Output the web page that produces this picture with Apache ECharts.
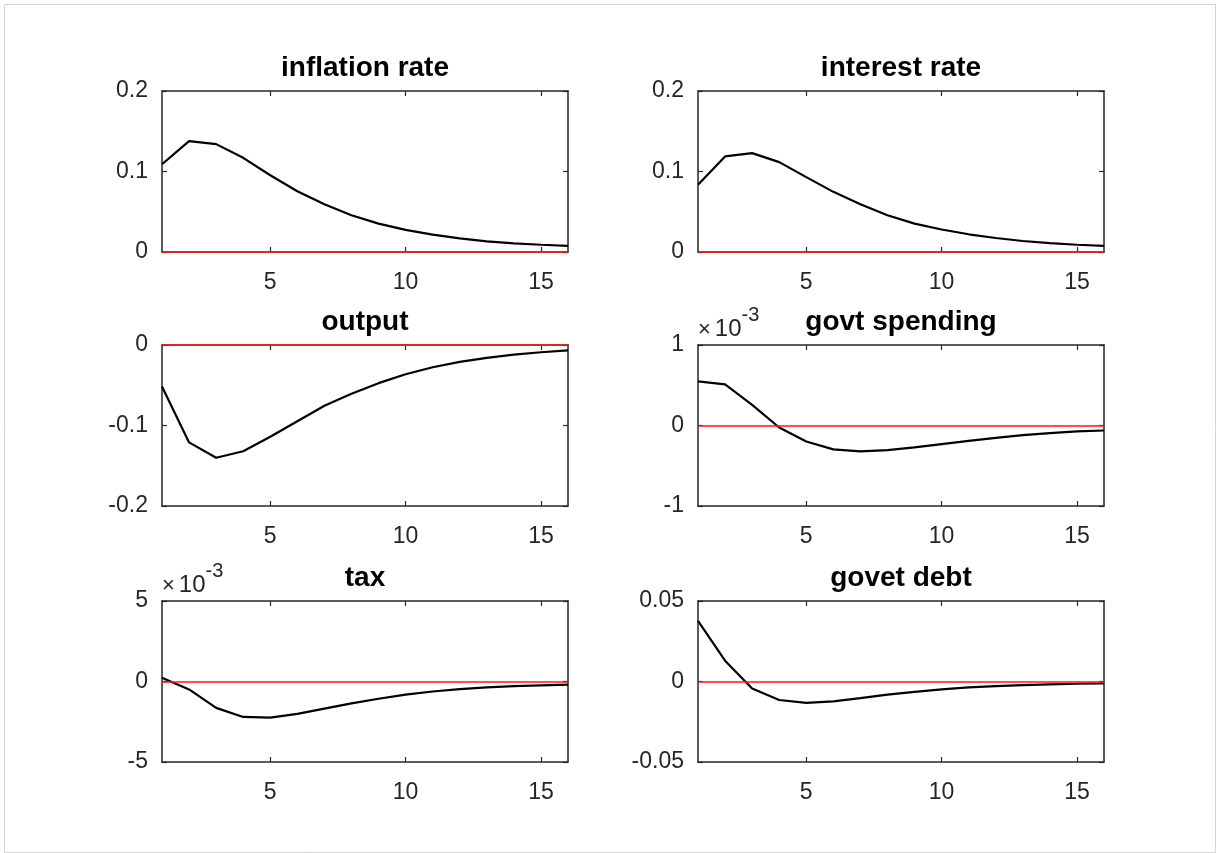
<!DOCTYPE html>
<html>
<head>
<meta charset="utf-8">
<title>Impulse responses</title>
<script src="https://cdn.jsdelivr.net/npm/echarts@6/dist/echarts.min.js"></script>
<style>
  html, body { margin: 0; padding: 0; background: #ffffff; }
  #chart { width: 1217px; height: 853px; }
</style>
</head>
<body>
<div id="chart"></div>
<script>
// Horizon (quarters after the shock)
const periods = [1, 2, 3, 4, 5, 6, 7, 8, 9, 10, 11, 12, 13, 14, 15, 16];
const xTicks = [5, 10, 15];

// Responses of each variable
const inflationRate = [0.109, 0.1378, 0.134, 0.117, 0.0954, 0.0755, 0.0593, 0.0456, 0.0353, 0.0274, 0.0216, 0.017, 0.0133, 0.0108, 0.009, 0.0075];
const interestRate = [0.0834, 0.1187, 0.1228, 0.1116, 0.093, 0.0747, 0.0593, 0.0456, 0.0353, 0.028, 0.022, 0.0174, 0.0137, 0.011, 0.009, 0.0075];
const output = [-0.0515, -0.121, -0.140, -0.132, -0.114, -0.0948, -0.0755, -0.0606, -0.0474, -0.0363, -0.0276, -0.021, -0.016, -0.012, -0.009, -0.0066];
const govtSpending = [0.000548, 0.000511, 0.000256, -0.000025, -0.000198, -0.000297, -0.000322, -0.000305, -0.000272, -0.000231, -0.00019, -0.000153, -0.00012, -0.000095, -0.000074, -0.000062];
const tax = [0.00023, -0.00049, -0.00164, -0.0022, -0.00224, -0.00201, -0.00168, -0.00136, -0.00107, -0.00082, -0.00062, -0.00047, -0.00037, -0.00029, -0.00024, -0.0002];
const govtDebt = [0.0376, 0.0129, -0.0043, -0.0115, -0.0133, -0.0123, -0.0103, -0.0082, -0.0064, -0.0049, -0.0037, -0.0029, -0.0023, -0.0018, -0.0014, -0.0012];

// Y tick values per panel
const inflationTicks = [0, 0.1, 0.2];
const interestTicks = [0, 0.1, 0.2];
const outputTicks = [-0.2, -0.1, 0];
const spendingTicks = [-0.001, 0, 0.001];
const taxTicks = [-0.005, 0, 0.005];
const debtTicks = [-0.05, 0, 0.05];

const titles = ['inflation rate', 'interest rate', 'output', 'govt spending', 'tax', 'govet debt'];
const seriesData = [inflationRate, interestRate, output, govtSpending, tax, govtDebt];
const yTickSets = [inflationTicks, interestTicks, outputTicks, spendingTicks, taxTicks, debtTicks];
const exponents = [0, 0, 0, -3, -3, 0];

// Panel geometry (2 columns x 3 rows)
const colLeft = [162, 698];
const panelWidth = 406;
const rowTop = [91, 345, 601];
const panelHeight = 161;

const FONT = '"Liberation Sans", Arial, Helvetica, sans-serif';
const AXIS_COLOR = '#262626';

const grid = [], xAxis = [], yAxis = [], series = [], title = [], graphic = [];

// Light frame round the figure
graphic.push({
  type: 'rect', left: 2, top: 2, silent: true,
  shape: { width: 1211, height: 848 },
  style: { fill: 'none', stroke: '#d4d4d4', lineWidth: 1 }
});

const axisLine = () => ({ show: true, onZero: false, lineStyle: { color: AXIS_COLOR, width: 1.5 } });
const axisTick = values => ({ show: true, inside: true, length: 5, customValues: values, lineStyle: { color: AXIS_COLOR, width: 1.2 } });

titles.forEach((name, i) => {
  const col = i % 2, row = Math.floor(i / 2);
  const left = colLeft[col], top = rowTop[row];
  const ticks = yTickSets[i];
  const exp = exponents[i];
  const scale = Math.pow(10, -exp);

  grid.push({ left: left, top: top, width: panelWidth, height: panelHeight, containLabel: false });

  // bottom axis with labels, top axis as box edge with ticks
  xAxis.push({
    type: 'value', gridIndex: i, position: 'bottom', min: 1, max: 16,
    axisLine: axisLine(), axisTick: axisTick(xTicks),
    axisLabel: { customValues: xTicks, margin: 19, color: AXIS_COLOR, fontSize: 23, fontFamily: FONT },
    splitLine: { show: false }
  });
  xAxis.push({
    type: 'value', gridIndex: i, position: 'top', min: 1, max: 16,
    axisLine: axisLine(), axisTick: axisTick(xTicks),
    axisLabel: { show: false },
    splitLine: { show: false }
  });

  const fmt = v => String(Math.round(v * scale * 1000) / 1000);
  yAxis.push({
    type: 'value', gridIndex: i, position: 'left', min: ticks[0], max: ticks[ticks.length - 1],
    axisLine: axisLine(), axisTick: axisTick(ticks),
    axisLabel: { customValues: ticks, margin: 14, color: AXIS_COLOR, fontSize: 23, fontFamily: FONT, formatter: fmt },
    splitLine: { show: false }
  });
  yAxis.push({
    type: 'value', gridIndex: i, position: 'right', min: ticks[0], max: ticks[ticks.length - 1],
    axisLine: axisLine(), axisTick: axisTick(ticks),
    axisLabel: { show: false },
    splitLine: { show: false }
  });

  // impulse response
  series.push({
    type: 'line', name: name,
    xAxisIndex: 2 * i, yAxisIndex: 2 * i,
    data: periods.map((p, k) => [p, seriesData[i][k]]),
    showSymbol: false, symbol: 'none',
    lineStyle: { color: '#000000', width: 2.2 },
    z: 3,
    animation: false,
    // zero reference line in red
    markLine: {
      silent: true, symbol: ['none', 'none'], animation: false,
      label: { show: false },
      emphasis: { disabled: true },
      lineStyle: { color: '#ff1a1a', width: 1.6, type: 'solid', opacity: 1 },
      data: [{ yAxis: 0 }]
    }
  });

  title.push({
    text: name,
    left: left + panelWidth / 2, top: top - 37,
    textAlign: 'center', padding: 0,
    textStyle: { fontSize: 28, fontWeight: 'bold', color: '#000000', fontFamily: FONT }
  });

  if (exp !== 0) {
    graphic.push({
      type: 'text', left: left, top: top - 40, silent: true,
      style: {
        text: '{m|×}{n|10}{s|' + exp + '}',
        rich: {
          m: { fontSize: 22, fontFamily: FONT, fill: AXIS_COLOR, verticalAlign: 'bottom', lineHeight: 36, padding: [0, 4, 0, 0] },
          n: { fontSize: 24, fontFamily: FONT, fill: AXIS_COLOR, verticalAlign: 'bottom', lineHeight: 36 },
          s: { fontSize: 20, fontFamily: FONT, fill: AXIS_COLOR, verticalAlign: 'top', lineHeight: 36 }
        }
      }
    });
  }
});

const chart = echarts.init(document.getElementById('chart'), null, { renderer: 'canvas' });
chart.setOption({
  backgroundColor: '#ffffff',
  animation: false,
  title: title,
  grid: grid,
  xAxis: xAxis,
  yAxis: yAxis,
  series: series,
  graphic: graphic
});
</script>
</body>
</html>
